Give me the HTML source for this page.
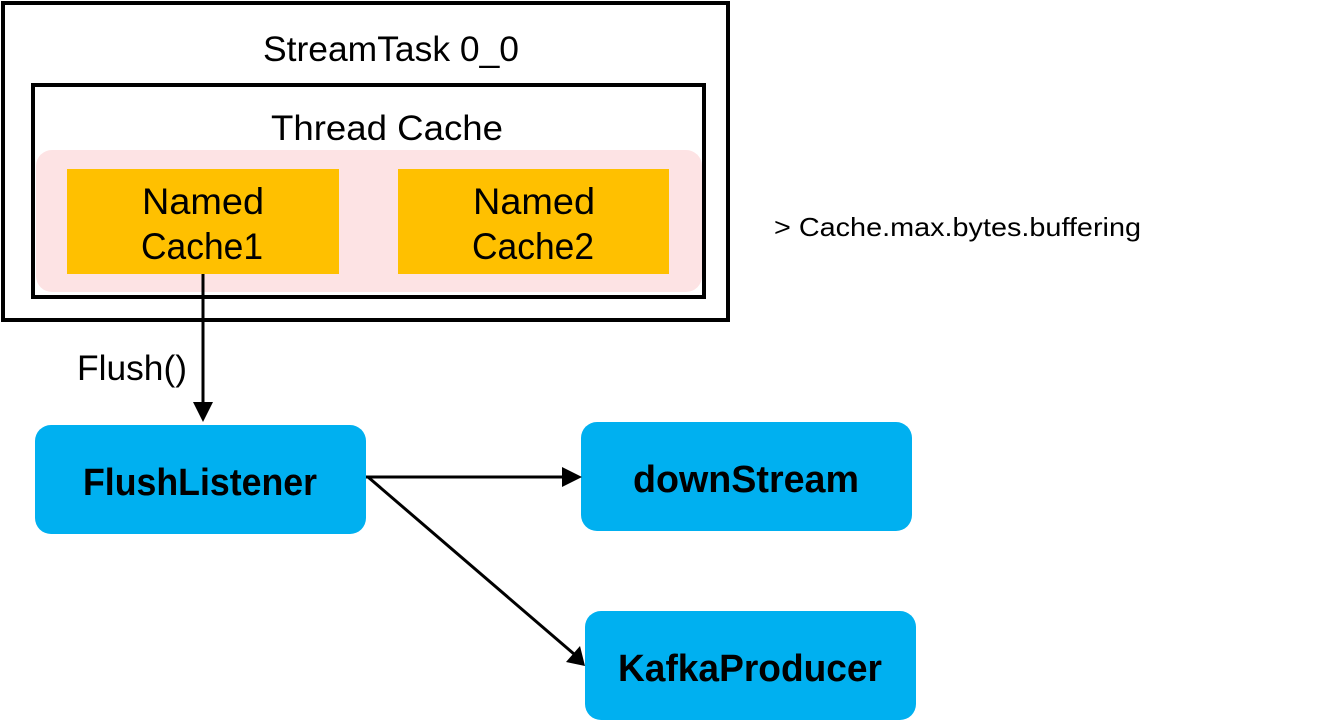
<!DOCTYPE html>
<html><head><style>html,body{margin:0;padding:0;background:#fff;}svg{display:block}</style></head>
<body>
<svg width="1344" height="721" viewBox="0 0 1344 721" xmlns="http://www.w3.org/2000/svg" font-family="Liberation Sans, sans-serif">
<rect x="3" y="3" width="725" height="317" fill="#fff" stroke="#000" stroke-width="4"/>
<text x="391" y="61" font-size="35" text-anchor="middle" textLength="256" lengthAdjust="spacingAndGlyphs">StreamTask 0_0</text>
<rect x="33" y="85" width="671" height="212" fill="#fff" stroke="#000" stroke-width="4"/>
<text x="387" y="140" font-size="35" text-anchor="middle" textLength="232" lengthAdjust="spacingAndGlyphs">Thread Cache</text>
<rect x="36" y="150" width="666" height="142" rx="16" fill="#fde3e4"/>
<rect x="67" y="169" width="272" height="105" fill="#ffc000"/>
<rect x="398" y="169" width="271" height="105" fill="#ffc000"/>
<g font-size="37" text-anchor="middle" lengthAdjust="spacingAndGlyphs">
<text x="203" y="214" textLength="122" lengthAdjust="spacingAndGlyphs">Named</text><text x="202" y="259" textLength="122" lengthAdjust="spacingAndGlyphs">Cache1</text>
<text x="534" y="214" textLength="122" lengthAdjust="spacingAndGlyphs">Named</text><text x="533" y="259" textLength="122" lengthAdjust="spacingAndGlyphs">Cache2</text>
</g>
<text x="774" y="236" font-size="26" textLength="367" lengthAdjust="spacingAndGlyphs">&gt;  Cache.max.bytes.buffering</text>
<line x1="203" y1="274" x2="203" y2="405" stroke="#000" stroke-width="3"/>
<polygon points="193,402 213,402 203,422" fill="#000"/>
<text x="77" y="380" font-size="35" textLength="110" lengthAdjust="spacingAndGlyphs">Flush()</text>
<rect x="35" y="425" width="331" height="109" rx="16" fill="#00b0f0"/>
<rect x="581" y="422" width="331" height="109" rx="16" fill="#00b0f0"/>
<rect x="585" y="611" width="331" height="109" rx="16" fill="#00b0f0"/>
<g font-size="38" font-weight="bold" text-anchor="middle">
<text x="200" y="495" textLength="234" lengthAdjust="spacingAndGlyphs">FlushListener</text>
<text x="746" y="492" textLength="226" lengthAdjust="spacingAndGlyphs">downStream</text>
<text x="750" y="681" textLength="264" lengthAdjust="spacingAndGlyphs">KafkaProducer</text>
</g>
<line x1="366" y1="477" x2="565" y2="477" stroke="#000" stroke-width="3"/>
<polygon points="562,467 582,477 562,487" fill="#000"/>
<line x1="368" y1="477" x2="574" y2="654" stroke="#000" stroke-width="3"/>
<polygon points="566,662 580,646 585,666" fill="#000"/>
</svg>
</body></html>
